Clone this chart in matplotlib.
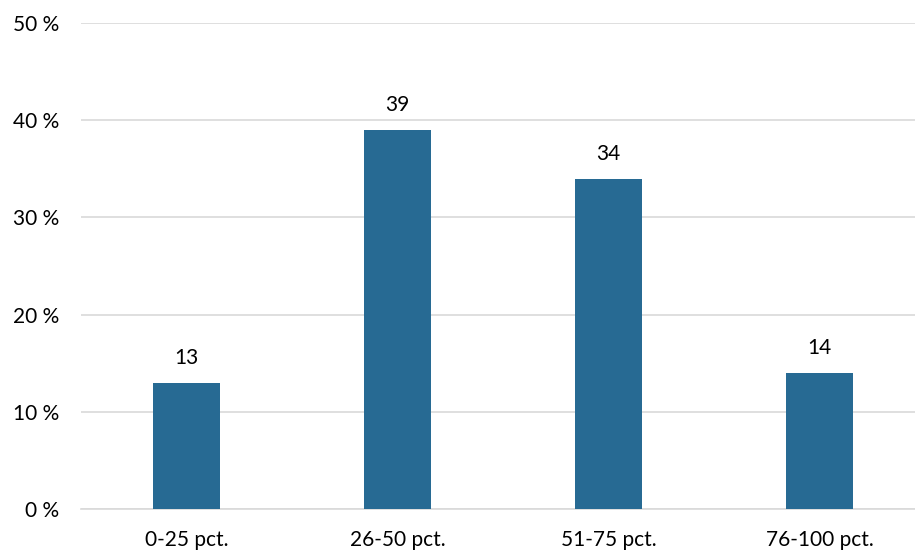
import matplotlib.pyplot as plt

categories = ["0-25 pct.", "26-50 pct.", "51-75 pct.", "76-100 pct."]
values = [13, 39, 34, 14]
yticks = [0, 10, 20, 30, 40, 50]

plt.rcParams['font.family'] = ['Lato', 'DejaVu Sans']

fig = plt.figure(figsize=(9.15, 5.51), dpi=100)
# plot area runs a little past the right edge, like the original
ax = fig.add_axes([81 / 915, 42 / 551, 844 / 915, 486 / 551])

x = range(len(categories))
bars = ax.bar(x, values, width=0.315, color="#276a93", zorder=3)
for b, v in zip(bars, values):
    ax.text(b.get_x() + b.get_width() / 2, v + 1.5, str(v),
            ha="center", va="bottom", fontsize=15, color="#000000")

ax.set_xlim(-0.5, len(categories) - 0.5)
ax.set_ylim(0, 50)
ax.set_yticks(yticks)
ax.set_yticklabels([f"{t} %" for t in yticks], fontsize=15)
ax.set_xticks(list(x))
ax.set_xticklabels(categories, fontsize=15)
ax.grid(axis="y", color="#d9d9d9", linewidth=1.2, zorder=0)
ax.tick_params(axis="y", length=0, pad=16)
ax.tick_params(axis="x", length=0, pad=15)
for s in ["top", "right", "left"]:
    ax.spines[s].set_visible(False)
ax.spines["bottom"].set_color("#d9d9d9")
ax.spines["bottom"].set_linewidth(1.2)

fig.savefig("out.png", dpi=100)
